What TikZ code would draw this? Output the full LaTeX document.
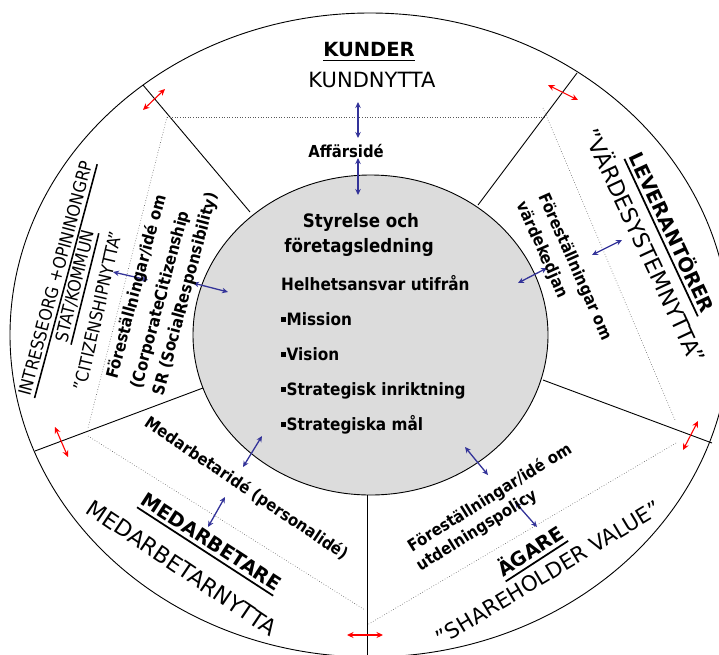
\documentclass[tikz,border=0pt]{standalone}
\usepackage{fontspec}
\setmainfont{DejaVu Sans}
\newfontfamily\cond{DejaVu Sans Condensed}
\usetikzlibrary{arrows.meta}

\definecolor{arrowblue}{RGB}{51,51,153}
\definecolor{coregrey}{RGB}{220,220,220}

% thick underline that rotates with its text
\newcommand\ulbar[1]{\setbox0=\hbox{#1}\rlap{\rule[-0.28em]{\wd0}{0.09em}}\box0}
% small square list bullet
\newcommand\sqbullet{\rule[0.2em]{0.27em}{0.27em}\kern0.05em}

\begin{document}
\begin{tikzpicture}[x=1pt,y=-1pt,
  spoke/.style={draw=black, line width=0.9pt},
  guide/.style={draw=gray!70!black, line width=0.6pt, dotted},
  bluearrow/.style={draw=arrowblue, line width=1.3pt,
    {Stealth[length=6pt,width=5.5pt]}-{Stealth[length=6pt,width=5.5pt]}},
  redarrow/.style={draw=red, line width=1.1pt,
    {Stealth[length=6.5pt,width=6pt]}-{Stealth[length=6.5pt,width=6pt]}},
  head/.style={font=\bfseries\fontsize{19.5}{22}\selectfont, inner sep=0pt},
  sub/.style={font=\fontsize{22.3}{25}\selectfont, inner sep=0pt},
  grp/.style={font=\cond\fontsize{17.5}{20}\selectfont, inner sep=0pt},
  idea/.style={font=\cond\bfseries\fontsize{16.5}{19}\selectfont, inner sep=0pt},
  ctitle/.style={font=\cond\bfseries\fontsize{18.5}{21}\selectfont, inner sep=0pt, anchor=base},
  citem/.style={font=\cond\bfseries\fontsize{17}{20}\selectfont, inner sep=0pt, anchor=base west},
]
\useasboundingbox (0,0) rectangle (719,654);
\clip (0,0) rectangle (719,654);

% outer ring and the management core
\draw[line width=0.9pt] (370,335) ellipse [x radius=360pt, y radius=322pt];
\fill[coregrey] (370.5,335) ellipse [x radius=177.5pt, y radius=160pt];
\draw[line width=0.9pt] (370.5,335) ellipse [x radius=177.5pt, y radius=160pt];

% spokes between the five stakeholder sectors
\coordinate (s1a) at (250,212); \coordinate (s1b) at (143,85);
\coordinate (s2a) at (478,205); \coordinate (s2b) at (577,73);
\coordinate (s3a) at (543,380); \coordinate (s3b) at (712,443);
\coordinate (s4a) at (367,495); \coordinate (s4b) at (367,660);
\coordinate (s5a) at (203,388); \coordinate (s5b) at (35,451);
\foreach \s in {1,...,5} \draw[spoke] (s\s a) -- (s\s b);

% dotted inner pentagon
\coordinate (p1) at (167,117); \coordinate (p2) at (545,117);
\coordinate (p3a) at (543,108); \coordinate (p3b) at (675,420);
\coordinate (p4a) at (676,443); \coordinate (p4b) at (367,625);
\coordinate (p5a) at (88,436); \coordinate (p5b) at (365,610);
\coordinate (p6) at (88,428);
\draw[guide] (p1) -- (p2);
\draw[guide] (p1) -- (p6);
\draw[guide] (p3a) -- (p3b);
\draw[guide] (p4a) -- (p4b);
\draw[guide] (p5a) -- (p5b);

% red exchange arrows across the spokes
\coordinate (r1a) at (143,110); \coordinate (r1b) at (165,89);
\coordinate (r2a) at (548,85);  \coordinate (r2b) at (578,100);
\coordinate (r3a) at (683,450); \coordinate (r3b) at (698,421);
\coordinate (r4a) at (347,635); \coordinate (r4b) at (383,635);
\coordinate (r5a) at (55,427);  \coordinate (r5b) at (68,457);
\foreach \r in {1,...,5} \draw[redarrow] (r\r a) -- (r\r b);

% blue exchange arrows between core, ideas and stakeholders
\coordinate (b1a) at (358,102); \coordinate (b1b) at (358,138);
\coordinate (b2a) at (358,158); \coordinate (b2b) at (358,195);
\coordinate (b3a) at (518,283); \coordinate (b3b) at (547,268);
\coordinate (b4a) at (592,255); \coordinate (b4b) at (622,240);
\coordinate (b5a) at (113,272); \coordinate (b5b) at (148,280);
\coordinate (b6a) at (193,283); \coordinate (b6b) at (228,292);
\coordinate (b7a) at (243,467); \coordinate (b7b) at (262,436);
\coordinate (b8a) at (208,527); \coordinate (b8b) at (225,497);
\coordinate (b9a) at (465,447); \coordinate (b9b) at (488,475);
\coordinate (b10a) at (515,502); \coordinate (b10b) at (537,527);
\foreach \b in {1,...,10} \draw[bluearrow] (b\b a) -- (b\b b);

% customers
\node[head, anchor=base] (kunder) at (369,56) {\ulbar{KUNDER}};
\node[sub, anchor=base, font=\fontsize{21}{24}\selectfont] (kundnytta) at (372,87) {KUNDNYTTA};
\node[idea, anchor=base] (affarsidee) at (346,157) {Affärsidé};

% core text
\node[ctitle] (styr1) at (361,227) {Styrelse och};
\node[ctitle] (styr2) at (359,252) {företagsledning};
\node[citem] (item0) at (281,290) {Helhetsansvar utifrån};
\node[citem] (item1) at (281,325) {\sqbullet Mission};
\node[citem] (item2) at (281,360) {\sqbullet Vision};
\node[citem] (item3) at (281,395) {\sqbullet Strategisk inriktning};
\node[citem] (item4) at (281,430) {\sqbullet Strategiska mål};

% interest groups and society
\node[grp, rotate=75] (intr) at (58,279) {\ulbar{INTRESSEORG +OPININONGRP}};
\node[grp, rotate=76] (stat) at (77,287) {\ulbar{STAT/KOMMUN}};
\node[grp, rotate=77] (citi) at (98,311) {”CITIZENSHIPNYTTA”};
\node[idea, rotate=75] (soc1) at (137,287) {Föreställningar/idé om};
\node[idea, rotate=75] (soc2) at (161,300) {(CorporateCitizenship};
\node[idea, rotate=75] (soc3) at (186,294) {SR (SocialResponsibility)};

% suppliers
\node[head, rotate=-65] (lev) at (671,233) {\ulbar{LEVERANTÖRER}};
\node[sub, rotate=-65] (vard) at (646,245) {”VÄRDESYSTEMNYTTA”};
\node[idea, rotate=-66] (vk1) at (575,267) {Föreställningar om};
\node[idea, rotate=-66] (vk2) at (542,250) {värdekedjan};

% employees
\node[idea, rotate=-34] (med0) at (246,489) {Medarbetaridé (personalidé)};
\node[head, rotate=-33] (med1) at (210,544) {\ulbar{MEDARBETARE}};
\node[sub, rotate=-34] (med2) at (182,568) {MEDARBETARNYTTA};

% owners
\node[idea, rotate=32] (utd1) at (490,498) {Föreställningar/idé om};
\node[idea, rotate=32] (utd2) at (477,531) {utdelningspolicy};
\node[head, rotate=33] (agare) at (531,552) {\ulbar{ÄGARE}};
\node[sub, rotate=31, font=\fontsize{21.3}{24}\selectfont] (share) at (548,573) {”SHAREHOLDER VALUE”};
\end{tikzpicture}
\end{document}
